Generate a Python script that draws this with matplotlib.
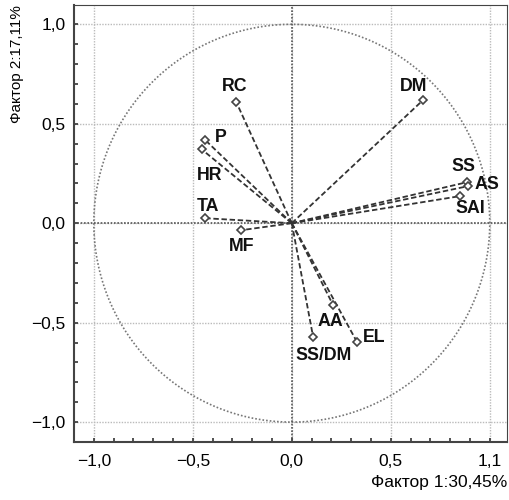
import matplotlib
matplotlib.use('Agg')
import matplotlib.pyplot as plt
import numpy as np

plt.rcParams['font.family'] = ['Liberation Sans', 'DejaVu Sans']

# Нагрузки переменных на факторы 1 и 2
labels = ['RC', 'DM', 'P', 'HR', 'TA', 'MF', 'SS', 'AS', 'SAI', 'AA', 'SS/DM', 'EL']
factor1 = [-0.28, 0.662, -0.436, -0.456, -0.436, -0.254, 0.884, 0.889, 0.849, 0.209, 0.108, 0.33]
factor2 = [0.608, 0.618, 0.417, 0.372, 0.025, -0.035, 0.206, 0.186, 0.136, -0.412, -0.573, -0.598]

# смещения подписей (в пунктах) и выравнивание
label_offsets = {
    'RC': (-1, 11, 'center'), 'DM': (-7, 10, 'center'), 'P': (6.5, 2, 'left'),
    'HR': (-3, -19, 'left'), 'TA': (-6.5, 8.5, 'left'), 'MF': (-9, -12, 'left'),
    'SS': (-2.5, 11, 'center'), 'AS': (5, 1.5, 'left'), 'SAI': (-3, -9, 'left'),
    'AA': (-11, -12, 'left'), 'SS/DM': (-13, -13, 'left'), 'EL': (4.5, 3, 'left'),
}

xticks = [-1.0, -0.5, 0.0, 0.5, 1.0]
xtick_labels = ['\u22121,0', '\u22120,5', '0,0', '0,5', '1,1']
yticks = [-1.0, -0.5, 0.0, 0.5, 1.0]
ytick_labels = ['\u22121,0', '\u22120,5', '0,0', '0,5', '1,0']

fig = plt.figure(figsize=(5.09, 5.00), dpi=100)
ax = fig.add_axes([74 / 509, 58 / 500, 433 / 509, 437 / 500])

# единичная окружность
t = np.linspace(0, 2 * np.pi, 400)
ax.plot(np.cos(t), np.sin(t), color='#777777', linestyle=(0, (1, 1.2)), linewidth=1.2, zorder=2)

# оси через ноль
ax.axhline(0, color='#555555', linestyle=(0, (1, 1)), linewidth=1.2, zorder=2)
ax.axvline(0, color='#555555', linestyle=(0, (1, 1)), linewidth=1.2, zorder=2)

# векторы
for name, fx, fy in zip(labels, factor1, factor2):
    ax.plot([0, fx], [0, fy], color='#333333', linestyle=(0, (3, 1.5)), linewidth=1.3, zorder=3)
    ax.plot(fx, fy, marker='D', markersize=4.5, markerfacecolor='white',
            markeredgecolor='#444444', markeredgewidth=1.2, zorder=4)
    dx, dy, ha = label_offsets[name]
    ax.annotate(name, (fx, fy), xytext=(dx, dy), textcoords='offset points',
                ha=ha, va='center', fontsize=12.8, fontweight='bold', color='#111111')

ax.set_xlim(-1.1, 1.087)
ax.set_ylim(-1.1, 1.097)

ax.set_xticks(xticks)
ax.set_xticklabels(xtick_labels)
ax.set_yticks(yticks)
ax.set_yticklabels(ytick_labels)
ax.set_xticks(np.arange(-1.1, 1.05, 0.1), minor=True)
ax.set_yticks(np.arange(-1.1, 1.05, 0.1), minor=True)
ax.tick_params(which='both', direction='in', length=3, width=1.2, color='#333333',
               labelsize=12.5)
ax.tick_params(axis='x', pad=9)
ax.tick_params(axis='y', pad=6)

ax.grid(True, which='major', color='#bbbbbb', linestyle=(0, (1, 1)), linewidth=1.0, zorder=0)

for spine in ax.spines.values():
    spine.set_linewidth(1.5)
    spine.set_color('#444444')
ax.spines['top'].set_linewidth(0.8)
ax.spines['right'].set_linewidth(0.8)

ax.set_xlabel('Фактор 1:30,45%', fontsize=12.5, loc='right', labelpad=4)
ax.set_ylabel('Фактор 2:17,11%', fontsize=11, loc='top', labelpad=5)

fig.savefig('out.png', dpi=100)
